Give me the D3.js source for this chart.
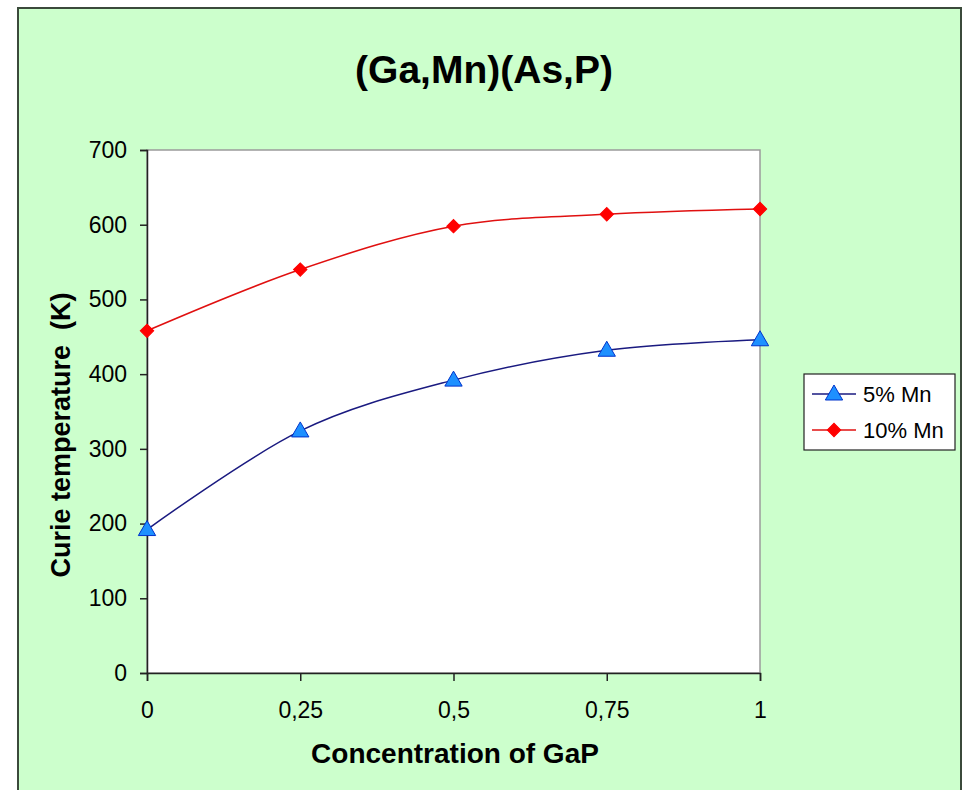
<!DOCTYPE html>
<html>
<head>
<meta charset="utf-8">
<script src="https://cdn.jsdelivr.net/npm/d3@7"></script>
<style>
  html, body { margin: 0; padding: 0; background: #ffffff; }
  svg { display: block; }
  text { font-family: Arial, "Liberation Sans", sans-serif; fill: #000; }
</style>
</head>
<body>
<script>
// Curie temperature of (Ga,Mn)(As,P) versus GaP concentration
const concentrations = [0, 0.25, 0.5, 0.75, 1];
const tickLabels = ["0", "0,25", "0,5", "0,75", "1"];
const mn5 = [192, 324, 392, 432, 446];
const mn10 = [458, 540, 598, 614, 621];
const yTicks = [0, 100, 200, 300, 400, 500, 600, 700];
const seriesNames = ["5% Mn", "10% Mn"];

const W = 967, H = 790;
const svg = d3.select("body").append("svg").attr("width", W).attr("height", H);

// chart frame
svg.append("rect")
  .attr("x", 18).attr("y", 8).attr("width", 943).attr("height", H + 10)
  .attr("fill", "#ccffcc").attr("stroke", "#3b4a3b").attr("stroke-width", 2);

const plot = { left: 147, top: 150, right: 760, bottom: 673 };

const x = d3.scaleLinear().domain([0, 1]).range([plot.left, plot.right]);
const y = d3.scaleLinear().domain([0, 700]).range([plot.bottom, plot.top]);

// plot area
svg.append("rect")
  .attr("x", plot.left).attr("y", plot.top)
  .attr("width", plot.right - plot.left).attr("height", plot.bottom - plot.top)
  .attr("fill", "#ffffff").attr("stroke", "#9a9a9a").attr("stroke-width", 1.5);

// axes
const yAxis = d3.axisLeft(y).tickValues(yTicks).tickSize(7).tickPadding(13).tickFormat(d3.format("d"));
const gy = svg.append("g").attr("transform", `translate(${plot.left},0)`).call(yAxis);
gy.selectAll("path, line").attr("stroke", "#222").attr("stroke-width", 1.5);
gy.selectAll("text").style("font-size", "23px").attr("fill", "#000");

const xAxis = d3.axisBottom(x).tickValues(concentrations).tickSize(8).tickPadding(21)
  .tickFormat((d, i) => tickLabels[i]);
const gx = svg.append("g").attr("transform", `translate(0,${plot.bottom})`).call(xAxis);
gx.selectAll("path, line").attr("stroke", "#222").attr("stroke-width", 1.5);
gx.selectAll("text").style("font-size", "23px").attr("fill", "#000");

// titles
svg.append("text").attr("x", 484).attr("y", 83).attr("text-anchor", "middle")
  .style("font-size", "39px").style("font-weight", "bold").text("(Ga,Mn)(As,P)");
svg.append("text").attr("x", 455).attr("y", 763).attr("text-anchor", "middle")
  .style("font-size", "28px").style("font-weight", "bold").text("Concentration of GaP");
svg.append("text").attr("transform", "translate(70,435) rotate(-90)").attr("text-anchor", "middle")
  .style("font-size", "27px").style("font-weight", "bold").style("white-space", "pre")
  .text("Curie temperature  (K)");

// smoothed lines
const line = d3.line().x((d, i) => x(concentrations[i])).y(d => y(d)).curve(d3.curveCatmullRom.alpha(0));

const tri = d3.symbol().type(d3.symbolTriangle).size(130);
const dia = d3.symbol().type(d3.symbolSquare).size(90);

const series = [
  { name: seriesNames[0], values: mn5, line: "#1a1a80", fill: "#1e90ff", stroke: "#0033cc", sym: tri, rot: 0 },
  { name: seriesNames[1], values: mn10, line: "#e01010", fill: "#ff0000", stroke: "#ff0000", sym: dia, rot: 45 }
];

series.forEach(s => {
  svg.append("path").datum(s.values).attr("d", line)
    .attr("fill", "none").attr("stroke", s.line).attr("stroke-width", 1.5);
  svg.append("g").selectAll("path").data(s.values).join("path")
    .attr("d", s.sym)
    .attr("transform", (d, i) => `translate(${x(concentrations[i])},${y(d) + (s.rot ? 0 : 1)}) rotate(${s.rot})`)
    .attr("fill", s.fill).attr("stroke", s.stroke).attr("stroke-width", 1);
});

// legend
const lg = svg.append("g");
lg.append("rect").attr("x", 804).attr("y", 374).attr("width", 151).attr("height", 76)
  .attr("fill", "#ffffff").attr("stroke", "#222").attr("stroke-width", 1.2);
series.forEach((s, i) => {
  const cy = 394 + i * 36;
  lg.append("line").attr("x1", 812).attr("x2", 856).attr("y1", cy).attr("y2", cy)
    .attr("stroke", s.line).attr("stroke-width", 1.5);
  lg.append("path").attr("d", s.sym)
    .attr("transform", `translate(834,${cy + (s.rot ? 0 : 1)}) rotate(${s.rot})`)
    .attr("fill", s.fill).attr("stroke", s.stroke).attr("stroke-width", 1);
  lg.append("text").attr("x", 863).attr("y", cy + 8).style("font-size", "22px").text(s.name);
});
</script>
</body>
</html>
